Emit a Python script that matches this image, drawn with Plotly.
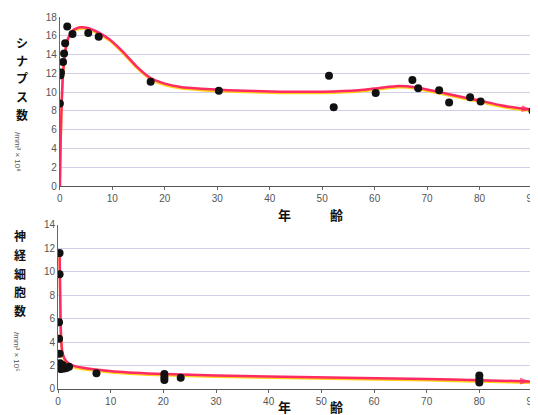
import plotly.graph_objects as go
from plotly.subplots import make_subplots

# ---- data: synapse density (top) ----
syn_age = [0.0, 0.1, 0.2, 0.6, 0.8, 1.0, 1.4, 2.4, 5.4, 7.4, 17.3, 30.3, 51.3, 52.2,
           60.2, 67.2, 68.3, 72.3, 74.2, 78.2, 80.2, 90.1]
syn_val = [8.8, 11.8, 12.1, 13.2, 14.1, 15.2, 17.0, 16.2, 16.3, 15.9, 11.1, 10.15, 11.75, 8.4,
           9.9, 11.3, 10.4, 10.2, 8.9, 9.45, 9.0, 8.0]
syn_curve_x = [0, 0.15, 0.35, 0.6, 1.0, 1.6, 2.5, 3.8, 5.5, 7.5, 9.5, 12, 14.5, 17.3, 20, 23, 27,
               32, 42, 50, 57, 61, 64.5, 68, 72, 76, 80, 84, 88, 90]
syn_curve_y = [0, 5.0, 9.0, 12.0, 14.3, 15.8, 16.6, 16.9, 16.8, 16.3, 15.6, 14.3, 12.8, 11.5, 10.9, 10.55, 10.35,
               10.2, 10.05, 10.05, 10.2, 10.45, 10.65, 10.5, 10.05, 9.55, 9.1, 8.6, 8.25, 8.15]

# ---- data: neuron density (bottom) ----
neu_age = [0.3, 0.3, 0.2, 0.2, 0.3, 0.4, 0.9, 1.2, 1.6, 2.1, 0.6, 7.3, 20.2, 20.2, 20.2, 23.3, 80, 80, 80]
neu_val = [11.6, 9.8, 5.7, 4.3, 3.0, 2.2, 2.05, 1.75, 1.8, 1.9, 1.7, 1.34, 1.28, 1.0, 0.77, 0.97, 1.15, 0.85, 0.55]
neu_curve_x = [0.3, 0.4, 0.5, 0.65, 0.9, 1.3, 2.0, 3.2, 5.6, 10.7, 20.2, 30, 40, 57.4, 70, 80, 89.7]
neu_curve_y = [11.8, 8.5, 5.6, 3.9, 3.0, 2.55, 2.2, 1.95, 1.75, 1.5, 1.28, 1.16, 1.06, 0.94, 0.85, 0.75, 0.65]

x_ticks = [0, 10, 20, 30, 40, 50, 60, 70, 80, 90]
syn_ticks = [0, 2, 4, 6, 8, 10, 12, 14, 16, 18]
neu_ticks = [0, 2, 4, 6, 8, 10, 12, 14]

syn_title = "シナプス数"
neu_title = "神経細胞数"
syn_unit = "/mm³ × 10⁸"
neu_unit = "/mm³ × 10⁵"

PINK = "#ff2a63"
YEL = "#ffd21a"

fig = make_subplots(rows=2, cols=1, vertical_spacing=0.0)

def add_panel(row, cx, cy, px, py, shadow):
    fig.add_trace(go.Scatter(x=cx, y=[v - shadow for v in cy], mode="lines",
                             line=dict(color=YEL, width=2.5, shape="spline", smoothing=0.5),
                             hoverinfo="skip", showlegend=False), row=row, col=1)
    sizes = [0] * (len(cx) - 1) + [11]
    fig.add_trace(go.Scatter(x=cx, y=cy, mode="lines+markers",
                             line=dict(color=PINK, width=2.5, shape="spline", smoothing=0.5),
                             marker=dict(symbol="arrow", angleref="previous", size=sizes,
                                         color=PINK, line=dict(width=0)),
                             showlegend=False), row=row, col=1)
    fig.add_trace(go.Scatter(x=px, y=py, mode="markers",
                             marker=dict(color="#111111", size=8),
                             showlegend=False), row=row, col=1)

add_panel(1, syn_curve_x, syn_curve_y, syn_age, syn_val, 0.14)
add_panel(2, neu_curve_x, neu_curve_y, neu_age, neu_val, 0.11)

tickfont = dict(family="Liberation Sans, Arial", size=10, color="#555555")
for r, dom in [(1, [0.5457, 1.0]), (2, [0.0, 0.4409])]:
    fig.update_xaxes(row=r, col=1, range=[0, 90], tickvals=x_ticks, ticks="outside",
                     ticklen=3, tickcolor="#666", showline=True, linecolor="#555",
                     linewidth=1, showgrid=False, zeroline=False, tickfont=tickfont,
                     automargin=False)
    fig.update_yaxes(row=r, col=1, domain=dom, showline=True, linecolor="#666", linewidth=1,
                     gridcolor="#cfcfe8", gridwidth=1, zeroline=False, tickfont=tickfont,
                     ticks="", automargin=False)
fig.update_yaxes(row=1, col=1, range=[0, 18], tickvals=syn_ticks)
fig.update_yaxes(row=2, col=1, range=[0, 14], tickvals=neu_ticks)
fig.update_xaxes(row=1, col=1, domain=[0.004, 1.0])
fig.update_xaxes(row=2, col=1, domain=[0.0, 1.0])

# helpers: convert page pixel positions to paper fractions (plot area: x 58..532, y 17..389 on page)
def px_x(p):
    return (p - 58) / 474.0

def px_y(p):
    return (389 - p) / 372.0

ann = []
title_font = dict(family="Noto Sans CJK JP", size=12, color="#111111")
for i, ch in enumerate(syn_title):
    ann.append(dict(text="<b>%s</b>" % ch, xref="paper", yref="paper",
                    x=px_x(22), y=px_y(42 + 18 * i), xanchor="center", yanchor="middle",
                    showarrow=False, font=title_font))
for i, ch in enumerate(neu_title):
    ann.append(dict(text="<b>%s</b>" % ch, xref="paper", yref="paper",
                    x=px_x(20), y=px_y(236 + 18.5 * i), xanchor="center", yanchor="middle",
                    showarrow=False, font=title_font))
unit_font = dict(family="Liberation Sans", size=8, color="#555")
ann.append(dict(text=syn_unit, xref="paper", yref="paper", x=px_x(18), y=px_y(152),
                xanchor="center", yanchor="middle", textangle=90, showarrow=False, font=unit_font))
ann.append(dict(text=neu_unit, xref="paper", yref="paper", x=px_x(17), y=px_y(352),
                xanchor="center", yanchor="middle", textangle=90, showarrow=False, font=unit_font))

xfont = dict(family="Noto Sans CJK JP", size=13, color="#111111")
for yp in [214, 406]:
    ann.append(dict(text="<b>年</b>", xref="paper", yref="paper", x=px_x(284), y=px_y(yp),
                    xanchor="center", yanchor="middle", showarrow=False, font=xfont))
    ann.append(dict(text="<b>齢</b>", xref="paper", yref="paper", x=px_x(336), y=px_y(yp),
                    xanchor="center", yanchor="middle", showarrow=False, font=xfont))

# page body has an 8px margin; size the figure so the plot lands where the reference has it
fig.update_layout(width=530, height=407, margin=dict(l=50, r=6, t=9, b=26),
                  paper_bgcolor="white", plot_bgcolor="white", annotations=ann,
                  showlegend=False)

fig.write_html("out.html")
